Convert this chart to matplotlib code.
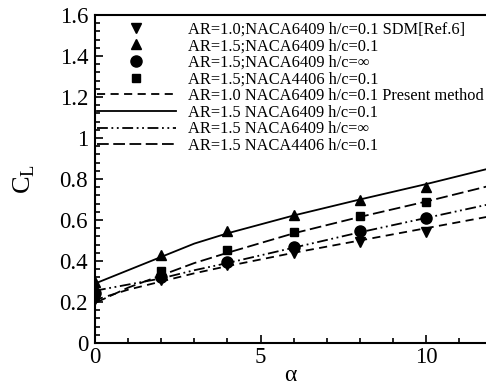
# CL vs alpha, ground effect comparison
import matplotlib
matplotlib.use('Agg')
import matplotlib.pyplot as plt

plt.rcParams['font.family'] = ['Liberation Serif', 'DejaVu Serif']

# data
alpha_pts = [0, 2, 4, 6, 8, 10]
sdm_ar10_6409 = [0.215, 0.305, 0.38, 0.44, 0.494, 0.543]
sdm_ar15_6409 = [0.30, 0.43, 0.545, 0.625, 0.697, 0.762]
sdm_ar15_6409_inf = [0.245, 0.32, 0.395, 0.47, 0.548, 0.61]
sdm_ar15_4406 = [0.23, 0.35, 0.455, 0.54, 0.619, 0.689]

alpha_line = [0, 1, 2, 3, 4, 6, 8, 10, 12]
pm_ar10_6409 = [0.21, 0.26, 0.30, 0.34, 0.375, 0.44, 0.50, 0.56, 0.62]
pm_ar15_6409 = [0.29, 0.355, 0.42, 0.485, 0.535, 0.622, 0.70, 0.775, 0.855]
pm_ar15_6409_inf = [0.255, 0.285, 0.315, 0.355, 0.39, 0.465, 0.54, 0.61, 0.68]
pm_ar15_4406 = [0.195, 0.27, 0.33, 0.39, 0.44, 0.535, 0.615, 0.69, 0.77]

labels = ['AR=1.0;NACA6409 h/c=0.1 SDM[Ref.6]',
          'AR=1.5;NACA6409 h/c=0.1',
          'AR=1.5;NACA6409 h/c=\u221e',
          'AR=1.5;NACA4406 h/c=0.1',
          'AR=1.0 NACA6409 h/c=0.1 Present method',
          'AR=1.5 NACA6409 h/c=0.1',
          'AR=1.5 NACA6409 h/c=\u221e',
          'AR=1.5 NACA4406 h/c=0.1']

fig = plt.figure(figsize=(4.86, 3.89), dpi=100)
ax = fig.add_axes([95/486, 46/389, 391/486, 328/389])

k = 'black'
ax.plot(alpha_pts, sdm_ar10_6409, 'v', color=k, ms=7, ls='none', label=labels[0])
ax.plot(alpha_pts, sdm_ar15_6409, '^', color=k, ms=7, ls='none', label=labels[1])
ax.plot(alpha_pts, sdm_ar15_6409_inf, 'o', color=k, ms=8, ls='none', label=labels[2])
ax.plot(alpha_pts, sdm_ar15_4406, 's', color=k, ms=6, ls='none', label=labels[3])
ax.plot(alpha_line, pm_ar10_6409, color=k, lw=1.3, ls=(0, (4.5, 3)), label=labels[4])
ax.plot(alpha_line, pm_ar15_6409, color=k, lw=1.3, ls='-', label=labels[5])
ax.plot(alpha_line, pm_ar15_6409_inf, color=k, lw=1.3, ls=(0, (6, 2, 1, 2, 1, 2)), label=labels[6])
ax.plot(alpha_line, pm_ar15_4406, color=k, lw=1.3, ls=(0, (6.5, 2.5)), label=labels[7])

ax.set_xlim(0, 11.81)
ax.set_ylim(0, 1.6)
ax.set_xticks([0, 5, 10])
ax.set_xticks(range(0, 12), minor=True)
ax.set_yticks([0, 0.2, 0.4, 0.6, 0.8, 1, 1.2, 1.4, 1.6])
ax.set_yticklabels(['0', '0.2', '0.4', '0.6', '0.8', '1', '1.2', '1.4', '1.6'])
ax.set_yticks([i * 0.04 for i in range(41)], minor=True)
ax.tick_params(which='both', direction='in', labelsize=16.5, width=1.2)
ax.tick_params(which='major', length=6)
ax.tick_params(which='minor', length=3.5)
ax.tick_params(axis='y', pad=5)
ax.tick_params(axis='x', pad=3)
for s in ['left', 'bottom', 'top']:
    ax.spines[s].set_linewidth(1.5)
ax.spines['right'].set_visible(False)

ax.set_xlabel('\u03b1', fontsize=17, labelpad=-2)
ax.set_ylabel('C$_\\mathregular{L}$', fontsize=19, labelpad=16)

ax.legend(loc='upper left', bbox_to_anchor=(0.005, 0.98), frameon=False,
          fontsize=11.8, handlelength=4.8, handletextpad=0.75, labelspacing=0.04,
          numpoints=1, borderpad=0, borderaxespad=0)

fig.savefig('out.png', dpi=100)
